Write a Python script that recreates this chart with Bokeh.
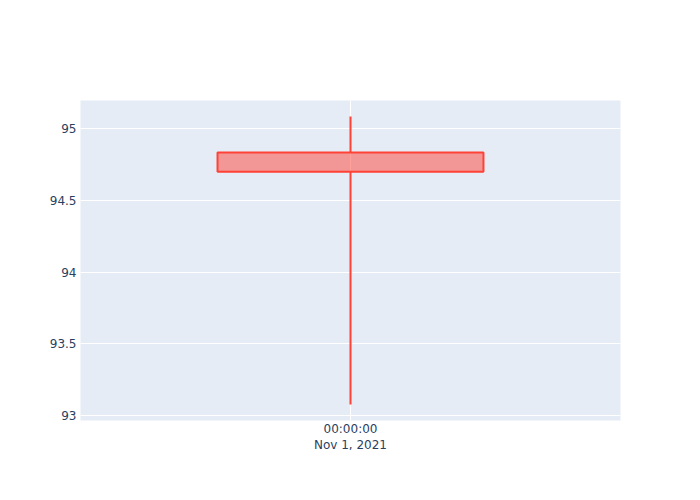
from datetime import datetime, timedelta
from bokeh.plotting import figure
from bokeh.models import Range1d, FixedTicker, ColumnDataSource
from bokeh.embed import file_html
from bokeh.resources import INLINE

# ---- data ----
dates = [datetime(2021, 11, 1)]
open_ = [94.835]
high = [95.086]
low = [93.077]
close = [94.70]
y_ticks = [93, 93.5, 94, 94.5, 95]
y_tick_labels = ["93", "93.5", "94", "94.5", "95"]
x_tick_label = "00:00:00\nNov 1, 2021"

top_body = [max(o, c) for o, c in zip(open_, close)]
bot_body = [min(o, c) for o, c in zip(open_, close)]
src = ColumnDataSource(dict(x=dates, high=high, low=low, top=top_body, bot=bot_body))

FONT = "DejaVu Sans"
TXT = "#2a3f5f"

p = figure(width=692, height=492, x_axis_type="datetime", output_backend="svg",
           toolbar_location=None, min_border_left=80, min_border_right=72,
           min_border_top=100, min_border_bottom=72)
p.x_range = Range1d(dates[0] - timedelta(days=1), dates[0] + timedelta(days=1))
p.y_range = Range1d(92.965, 95.197)

p.background_fill_color = "#E5ECF6"
p.border_fill_color = "white"
p.outline_line_color = None

p.segment(x0="x", y0="high", x1="x", y1="top", source=src, line_color="#FF4136", line_width=2)
p.segment(x0="x", y0="bot", x1="x", y1="low", source=src, line_color="#FF4136", line_width=2)
body_w = 0.985 * 24 * 3600 * 1000
p.vbar(x="x", top="top", bottom="bot", width=body_w, source=src,
       fill_color="#FF4136", fill_alpha=0.5, line_color="#FF4136", line_width=2)

for ax in (p.xaxis[0], p.yaxis[0]):
    ax.axis_line_color = None
    ax.major_tick_line_color = None
    ax.minor_tick_line_color = None
    ax.major_label_text_font = FONT
    ax.major_label_text_font_size = "12px"
    ax.major_label_text_color = TXT

p.yaxis.ticker = FixedTicker(ticks=y_ticks)
p.yaxis.major_label_overrides = {t: l for t, l in zip(y_ticks, y_tick_labels)}
p.yaxis.major_label_standoff = -2

xt = dates[0].timestamp() * 1000
p.xaxis.ticker = FixedTicker(ticks=[xt])
p.xaxis.major_label_overrides = {xt: x_tick_label}
p.xaxis.major_label_standoff = -5

p.grid.grid_line_color = "white"
p.grid.grid_line_width = 1

open("out.html", "w").write(file_html(p, INLINE))
